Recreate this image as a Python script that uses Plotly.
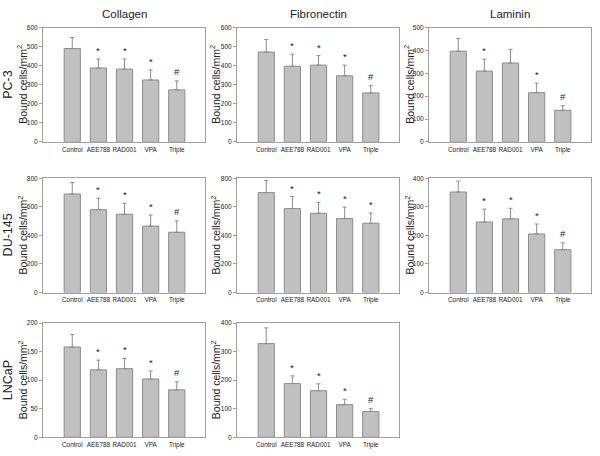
import plotly.graph_objects as go

categories = ["Control", "AEE788", "RAD001", "VPA", "Triple"]
matrices = ["Collagen", "Fibronectin", "Laminin"]
cell_lines = ["PC-3", "DU-145", "LNCaP"]

# PC-3
pc3_collagen = [490, 388, 382, 325, 273]
pc3_collagen_err = [58, 47, 53, 53, 47]
pc3_collagen_sig = ["", "*", "*", "*", "#"]
pc3_fibronectin = [472, 397, 403, 347, 257]
pc3_fibronectin_err = [66, 63, 50, 56, 38]
pc3_fibronectin_sig = ["", "*", "*", "*", "#"]
pc3_laminin = [397, 310, 345, 215, 138]
pc3_laminin_err = [55, 52, 60, 42, 20]
pc3_laminin_sig = ["", "*", "", "*", "#"]

# DU-145
du145_collagen = [690, 580, 548, 465, 422]
du145_collagen_err = [80, 80, 77, 78, 80]
du145_collagen_sig = ["", "*", "*", "*", "#"]
du145_fibronectin = [700, 588, 555, 518, 485]
du145_fibronectin_err = [85, 84, 77, 80, 71]
du145_fibronectin_sig = ["", "*", "*", "*", "*"]
du145_laminin = [352, 247, 258, 205, 150]
du145_laminin_err = [38, 45, 37, 35, 24]
du145_laminin_sig = ["", "*", "*", "*", "#"]

# LNCaP
lncap_collagen = [158, 118, 120, 102, 83]
lncap_collagen_err = [22, 17, 18, 14, 14]
lncap_collagen_sig = ["", "*", "*", "*", "#"]
lncap_fibronectin = [328, 188, 163, 114, 90]
lncap_fibronectin_err = [55, 27, 24, 19, 10]
lncap_fibronectin_sig = ["", "*", "*", "*", "#"]

y_max = [[600, 600, 500], [800, 800, 400], [200, 400, None]]
y_step = [[100, 100, 100], [200, 200, 100], [50, 100, None]]

panels = [
    [(pc3_collagen, pc3_collagen_err, pc3_collagen_sig),
     (pc3_fibronectin, pc3_fibronectin_err, pc3_fibronectin_sig),
     (pc3_laminin, pc3_laminin_err, pc3_laminin_sig)],
    [(du145_collagen, du145_collagen_err, du145_collagen_sig),
     (du145_fibronectin, du145_fibronectin_err, du145_fibronectin_sig),
     (du145_laminin, du145_laminin_err, du145_laminin_sig)],
    [(lncap_collagen, lncap_collagen_err, lncap_collagen_sig),
     (lncap_fibronectin, lncap_fibronectin_err, lncap_fibronectin_sig),
     None],
]

W, H = 600, 456
col_left = [43, 237, 429]
col_w = 162
row_top = [24, 177, 324]
row_h = 116
ytitle_x = [22, 215, 409]

FONT = "Liberation Sans, Arial, sans-serif"
BAR_FILL = "#c0c0c0"
BAR_LINE = "#8c8c8c"
FRAME = "#a0a0a0"

fig = go.Figure()
annotations = []
layout_axes = {}
idx = 0
for r in range(3):
    for c in range(3):
        p = panels[r][c]
        if p is None:
            continue
        idx += 1
        vals, errs, sigs = p
        xa = "x" if idx == 1 else f"x{idx}"
        ya = "y" if idx == 1 else f"y{idx}"
        xkey = "xaxis" if idx == 1 else f"xaxis{idx}"
        ykey = "yaxis" if idx == 1 else f"yaxis{idx}"
        fig.add_trace(go.Bar(
            x=categories, y=vals, xaxis=xa, yaxis=ya, width=0.62,
            marker=dict(color=BAR_FILL, line=dict(color=BAR_LINE, width=1)),
            error_y=dict(type="data", array=errs, arrayminus=[0] * len(errs),
                         symmetric=False, color="#8c8c8c", thickness=1, width=2),
            showlegend=False, hoverinfo="skip",
        ))
        x0 = col_left[c] / W
        x1 = (col_left[c] + col_w) / W
        y1 = 1 - row_top[r] / H
        y0 = 1 - (row_top[r] + row_h) / H
        layout_axes[xkey] = dict(
            domain=[x0, x1], anchor=ya, type="category",
            range=[-1.12, 5.08], showline=True, mirror=True, linecolor=FRAME,
            linewidth=1, ticks="", tickangle=0, ticklabelstandoff=1,
            tickfont=dict(size=6.4, color="#222"),
            showgrid=False, zeroline=False,
        )
        layout_axes[ykey] = dict(
            domain=[y0, y1], anchor=xa, range=[0, y_max[r][c]],
            dtick=y_step[r][c], tick0=0, showline=True, mirror=True,
            linecolor=FRAME, linewidth=1, ticks="outside", ticklen=3,
            tickcolor=FRAME, tickfont=dict(size=6.5, color="#222"),
            showgrid=False, zeroline=False,
        )
        annotations.append(dict(
            x=ytitle_x[c] / W, y=(y0 + y1) / 2, xref="paper", yref="paper",
            text="Bound cells/mm<sup>2</sup>", showarrow=False, textangle=-90,
            font=dict(size=10.5, color="#222", family=FONT),
            xanchor="center", yanchor="middle",
        ))
        for cat, v, e, s in zip(categories, vals, errs, sigs):
            if s:
                annotations.append(dict(
                    x=cat, y=v + e, xref=xa, yref=ya, text=s, showarrow=False,
                    yanchor="bottom", yshift=1 if s == "*" else 2,
                    font=dict(size=9.5, color="#222", family=FONT),
                ))

for c, name in enumerate(matrices):
    annotations.append(dict(
        x=(col_left[c] + col_w / 2) / W, y=1 - 10 / H, xref="paper", yref="paper",
        text=name, showarrow=False, font=dict(size=11.5, color="#222", family=FONT),
        xanchor="center", yanchor="middle",
    ))

for r, name in enumerate(cell_lines):
    annotations.append(dict(
        x=8 / W, y=1 - (row_top[r] + row_h / 2) / H, xref="paper", yref="paper",
        text=name, showarrow=False, textangle=-90,
        font=dict(size=12.5, color="#222", family=FONT),
        xanchor="center", yanchor="middle",
    ))

fig.update_layout(
    width=W, height=H, margin=dict(l=0, r=0, t=0, b=0),
    paper_bgcolor="white", plot_bgcolor="white",
    font=dict(family=FONT, color="#222"),
    annotations=annotations, bargap=0.3, hovermode=False,
    **layout_axes,
)

fig.write_html(
    "out.html",
    config={"displayModeBar": False, "staticPlot": True},
    post_script="document.body.style.margin='0';document.body.style.padding='0';",
)
